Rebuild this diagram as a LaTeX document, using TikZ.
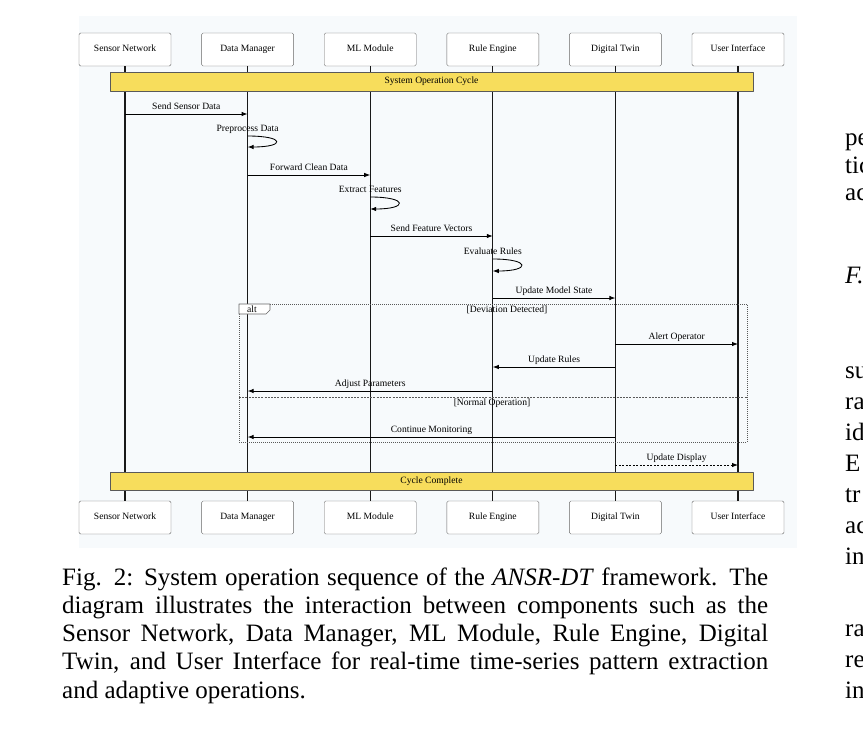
\documentclass[tikz,border=0pt]{standalone}
\usepackage{fontspec}
\setmainfont{Liberation Serif}
\usetikzlibrary{arrows.meta}
\definecolor{barfill}{RGB}{247,221,92}
\definecolor{panel}{RGB}{247,250,252}
\newcommand\dfont{\fontsize{9.6}{11.5}\selectfont}
\newcommand\capfont{\fontsize{25}{28}\selectfont}
\begin{document}
\begin{tikzpicture}[x=1pt, y=-1pt, font=\dfont, line join=round, >={Latex[length=6pt,width=4.5pt]},
	actor/.style={draw=black!60, fill=white, rounded corners=1.5pt, minimum width=92pt, minimum height=33pt, inner sep=0pt, text height=6.6pt, text depth=2.2pt},
	life/.style={draw=black!90, line width=1.2pt},
	cycbar/.style={draw=black!65, fill=barfill, minimum width=643pt, minimum height=19pt, inner sep=0pt, text height=6.6pt, text depth=2.2pt},
	msg/.style={->, line width=0.85pt},
	lbl/.style={anchor=base, yshift=4.5pt, inner sep=0pt},
	frame/.style={draw=black!65, line width=0.8pt, dash pattern=on 1pt off 1pt},
	txt/.style={font=\capfont, anchor=base west, inner sep=0pt}]
	\useasboundingbox (0,0) rectangle (863,739);
	\fill[panel] (79,16) rectangle (797,548);
	% lifelines with head and foot boxes
	\foreach \n/\t [count=\i from 0] in {sn/Sensor Network, dm/Data Manager, ml/ML Module, re/Rule Engine, dt/Digital Twin, ui/User Interface}{
		\node[actor] (\n) at ({125+122.6*\i},49.5) {\t};
		\node[actor] (\n2) at ({125+122.6*\i},517.5) {\t};
		\draw[life] (\n) -- (\n2);
	}
	\node[cycbar] (start) at (431.5,81.5) {System Operation Cycle};
	\node[cycbar, minimum height=18pt] (done) at (431.5,481) {Cycle Complete};
	% message levels
	\path
	(0,114) coordinate (m1)
	(0,136) coordinate (p1) (0,147) coordinate (p1b)
	(0,175) coordinate (m2)
	(0,197) coordinate (p2) (0,209) coordinate (p2b)
	(0,236) coordinate (m3)
	(0,259) coordinate (p3) (0,271) coordinate (p3b)
	(0,298) coordinate (m4)
	(0,344) coordinate (m5)
	(0,367) coordinate (m6)
	(0,391) coordinate (m7)
	(0,397) coordinate (div)
	(0,437) coordinate (m8)
	(0,465) coordinate (m9)
	(239,304) coordinate (altnw)
	(747,442) coordinate (altse);
	% alt frame
	\draw[frame] (altnw) rectangle (altse);
	\draw[frame, dash pattern=on 2pt off 1.2pt] (altnw |- div) -- (altse |- div);
	\draw[black!60, fill=white, line width=0.6pt] (altnw) -- ++(31,0) -- ++(0,6) -- ++(-4,4) -- ++(-27,0) -- cycle;
	\node (altlbl) at (252,309.5) {alt};
	\node[lbl] (g1) at (507,317) {[Deviation Detected]};
	\node[lbl] (g2) at (492,410) {[Normal Operation]};
	% messages
	\draw[msg] (sn |- m1) -- node[lbl] (t1) {Send Sensor Data} (dm |- m1);
	\draw[msg] (dm |- p1) .. controls +(38,0) and +(38,0) .. (dm |- p1b);
	\node[lbl] (s1) at (dm |- p1) {Preprocess Data};
	\draw[msg] (dm |- m2) -- node[lbl] (t2) {Forward Clean Data} (ml |- m2);
	\draw[msg] (ml |- p2) .. controls +(38,0) and +(38,0) .. (ml |- p2b);
	\node[lbl] (s2) at (ml |- p2) {Extract Features};
	\draw[msg] (ml |- m3) -- node[lbl] (t3) {Send Feature Vectors} (re |- m3);
	\draw[msg] (re |- p3) .. controls +(38,0) and +(38,0) .. (re |- p3b);
	\node[lbl] (s3) at (re |- p3) {Evaluate Rules};
	\draw[msg] (re |- m4) -- node[lbl] (t4) {Update Model State} (dt |- m4);
	\draw[msg] (dt |- m5) -- node[lbl] (t5) {Alert Operator} (ui |- m5);
	\draw[msg] (dt |- m6) -- node[lbl] (t6) {Update Rules} (re |- m6);
	\draw[msg] (re |- m7) -- node[lbl] (t7) {Adjust Parameters} (dm |- m7);
	\draw[msg] (dt |- m8) -- node[lbl] (t8) {Continue Monitoring} (dm |- m8);
	\draw[msg, dash pattern=on 2pt off 1.5pt] (dt |- m9) -- node[lbl] (t9) {Update Display} (ui |- m9);
	% caption
	\node[txt] (cap1) at (62,585) {\makebox[706pt][s]{Fig. 2: System operation sequence of the \textit{ANSR-DT} framework. The}};
	\node[txt] (cap2) at (62,613.3) {\makebox[706pt][s]{diagram illustrates the interaction between components such as the}};
	\node[txt] (cap3) at (62,641.6) {\makebox[706pt][s]{Sensor Network, Data Manager, ML Module, Rule Engine, Digital}};
	\node[txt] (cap4) at (62,669.9) {\makebox[706pt][s]{Twin, and User Interface for real-time time-series pattern extraction}};
	\node[txt] (cap5) at (62,698.2) {and adaptive operations.};
	% next column, cut at the edge
	\foreach \w/\y [count=\k] in {pe/145, tic/173, ac/200, \textit{F.}/283, su/378, ra/409, id/440, E/471, tr/502, ac/533, in/564, ra/636, re/667, in/698}
		\node[txt] (col\k) at (845,\y) {\w};
\end{tikzpicture}
\end{document}
